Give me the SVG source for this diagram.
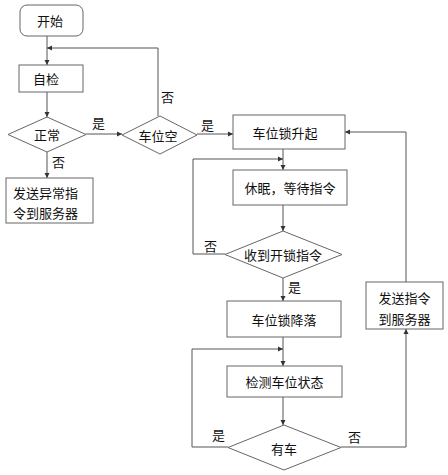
<svg xmlns="http://www.w3.org/2000/svg" width="448" height="475" viewBox="0 0 448 475">
<defs>
<marker id="ah" markerWidth="6" markerHeight="6" refX="5" refY="3" orient="auto" markerUnits="userSpaceOnUse">
<path d="M0,0.5 L5,3 L0,5.5 Z" fill="#333"/>
</marker>
<style>
.n{fill:#fff;stroke:#666;stroke-width:1}
.t{font-family:"Noto Sans CJK SC","Liberation Sans",sans-serif;font-size:13px;fill:#111;text-anchor:middle;dominant-baseline:central}
.l{font-family:"Noto Sans CJK SC","Liberation Sans",sans-serif;font-size:13px;fill:#111}
.c{fill:none;stroke:#555;stroke-width:1}
</style>
</defs>
<rect width="448" height="475" fill="#fff"/>
<g id="connectors">
<path class="c" d="M47,36 V65" marker-end="url(#ah)"/>
<path class="c" d="M158,116 V48 H47" marker-end="url(#ah)"/>
<path class="c" d="M47,92 V117" marker-end="url(#ah)"/>
<path class="c" d="M47,152 V178" marker-end="url(#ah)"/>
<path class="c" d="M86,134 H122" marker-end="url(#ah)"/>
<path class="c" d="M197,134 H233" marker-end="url(#ah)"/>
<path class="c" d="M283,149 V170" marker-end="url(#ah)"/>
<path class="c" d="M225,254 H193 V159 H283" marker-end="url(#ah)"/>
<path class="c" d="M283,205 V231" marker-end="url(#ah)"/>
<path class="c" d="M283,278 V301" marker-end="url(#ah)"/>
<path class="c" d="M283,337 V366" marker-end="url(#ah)"/>
<path class="c" d="M228,447 H192 V349 H283" marker-end="url(#ah)"/>
<path class="c" d="M283,397 V425" marker-end="url(#ah)"/>
<path class="c" d="M341,447 H406 V329" marker-end="url(#ah)"/>
<path class="c" d="M406,282 V132 H345" marker-end="url(#ah)"/>
<text class="l" x="92" y="128">是</text>
<text class="l" x="161" y="102">否</text>
<text class="l" x="201" y="130">是</text>
<text class="l" x="52" y="167">否</text>
<text class="l" x="204" y="251">否</text>
<text class="l" x="288" y="292">是</text>
<text class="l" x="212" y="440">是</text>
<text class="l" x="348" y="442">否</text>
</g>
<g id="start"><rect class="n" x="20" y="5" width="63" height="31" rx="7"/><text class="t" x="50" y="20.5">开始</text></g>
<g id="selfcheck"><rect class="n" x="19" y="65" width="64" height="27"/><text class="t" x="46" y="78.5">自检</text></g>
<g id="normal"><path class="n" d="M47,117 L86,134.5 L47,152 L8,134.5 Z"/><text class="t" x="47" y="134.5">正常</text></g>
<g id="sendError"><rect class="n" x="6" y="178" width="87" height="45"/><text class="l" x="13" y="198">发送异常指</text><text class="l" x="13" y="218">令到服务器</text></g>
<g id="spaceEmpty"><path class="n" d="M160,116 L197,135 L160,154 L122,135 Z"/><text class="t" x="158" y="135">车位空</text></g>
<g id="lockUp"><rect class="n" x="233" y="115" width="112" height="34"/><text class="t" x="285" y="132">车位锁升起</text></g>
<g id="sleep"><rect class="n" x="233" y="170" width="114" height="35"/><text class="t" x="290" y="187.5">休眠，等待指令</text></g>
<g id="unlockCmd"><path class="n" d="M283,231 L342,254.5 L283,278 L225,254.5 Z"/><text class="t" x="283" y="254.5">收到开锁指令</text></g>
<g id="lockDown"><rect class="n" x="227" y="301" width="114" height="36"/><text class="t" x="284" y="319">车位锁降落</text></g>
<g id="detect"><rect class="n" x="227" y="366" width="115" height="31"/><text class="t" x="284.5" y="381.5">检测车位状态</text></g>
<g id="hasCar"><path class="n" d="M284,425 L341,447.5 L284,470 L228,447.5 Z"/><text class="t" x="284" y="448">有车</text></g>
<g id="sendCmd"><rect class="n" x="366" y="282" width="77" height="47"/><text class="t" x="404.5" y="297">发送指令</text><text class="t" x="404.5" y="318">到服务器</text></g>
</svg>
